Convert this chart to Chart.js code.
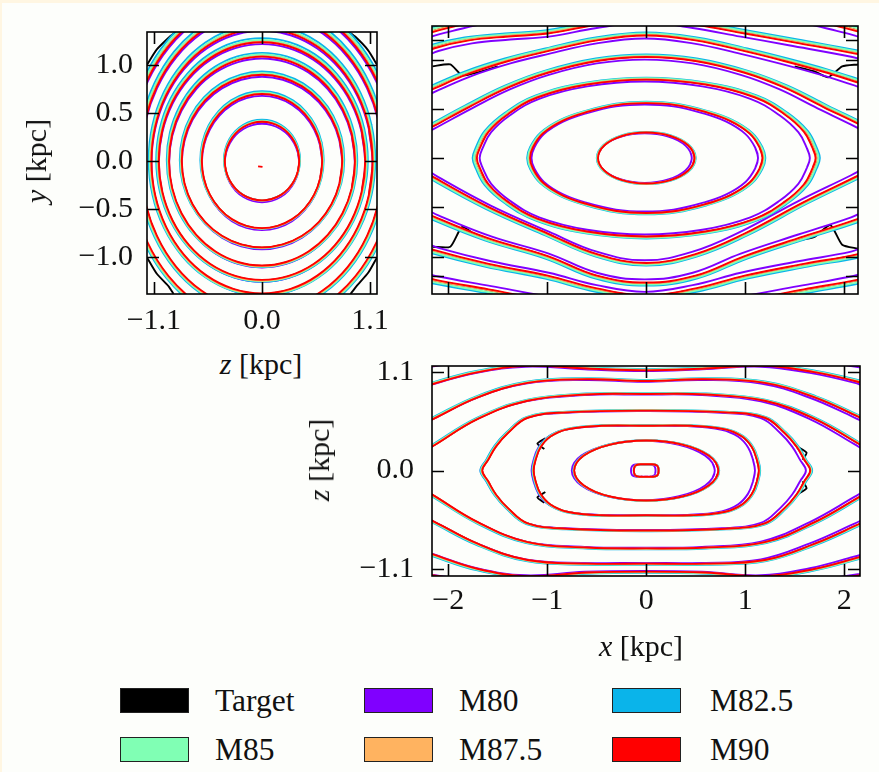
<!DOCTYPE html>
<html>
<head>
<meta charset="utf-8">
<script src="https://cdn.jsdelivr.net/npm/chart.js@4.4.1/dist/chart.umd.min.js"></script>
<style>
  body { margin: 0; background: #fdfefb; width: 879px; height: 772px; overflow: hidden; position: relative; font-family: "Liberation Serif", "DejaVu Serif", serif; color: #111; }
  .edge-top { position: absolute; left: 0; top: 0; width: 879px; height: 3px; background: #fff6e2; }
  .edge-left { position: absolute; left: 0; top: 0; width: 2px; height: 772px; background: #fff6e2; }
  canvas { position: absolute; }
  .atitle { position: absolute; font-size: 30px; white-space: nowrap; transform: translate(-50%, -50%); }
  .atitle.rot { transform: translate(-50%, -50%) rotate(-90deg); }
  .sw { position: absolute; width: 67px; height: 23px; border: 1px solid #222; }
  .lt { position: absolute; font-size: 31.5px; line-height: 30px; }
</style>
</head>
<body>
<div class="edge-top"></div>
<div class="edge-left"></div>

<canvas id="p1" width="400" height="340" style="left:0;top:0"></canvas>
<canvas id="p2" width="459" height="310" style="left:420px;top:0"></canvas>
<canvas id="p3" width="549" height="300" style="left:330px;top:330px"></canvas>

<div class="atitle rot" style="left:36px;top:161px"><i>y</i> [kpc]</div>
<div class="atitle" style="left:261px;top:364px"><i>z</i> [kpc]</div>
<div class="atitle rot" style="left:319px;top:460px"><i>z</i> [kpc]</div>
<div class="atitle" style="left:641px;top:646px"><i>x</i> [kpc]</div>

<div id="legend"></div>

<script>
// models and colours
const models = ['Target', 'M80', 'M82.5', 'M85', 'M87.5', 'M90'];
const modelColors = ['#000000', '#8000ff', '#0ab4ea', '#80ffb4', '#ffb360', '#ff0000'];

// per-model size and offset of the contours
const p1Scale = [1.0, 0.995, 1.02, 1.01, 1.0, 0.995];
const p1Shift = [[0, 0], [0, -0.02], [0, 0.012], [0, 0.005], [0, 0], [0, 0]];
const p2Scale = [1.0, 0.97, 1.02, 1.012, 1.0, 0.995];
const p2Shift = [[0, 0], [-0.015, 0], [0, 0], [0, 0], [0, 0], [0, 0]];
const p3Scale = [1.0, 0.99, 1.01, 1.005, 1.0, 0.998];
const p3Shift = [[0, 0], [-0.03, 0], [0, 0], [0, 0], [0, 0], [0, 0]];

// ticks
const p1ZTicks = [-1.1, 0, 1.1];
const p1ZTickLabels = ['\u22121.1', '0.0', '1.1'];
const p1YTicks = [-1, -0.5, 0, 0.5, 1];
const p1YTickLabels = ['\u22121.0', '\u22120.5', '0.0', '0.5', '1.0'];
const p2XTicks = [-2, -1, 0, 1, 2];
const p2YTicks = [-1.2, -1, -0.5, 0, 0.5, 1, 1.2];
const p3XTicks = [-2, -1, 0, 1, 2];
const p3XTickLabels = ['\u22122', '\u22121', '0', '1', '2'];
const p3ZTicks = [-1.1, 0, 1.1];
const p3ZTickLabels = ['\u22121.1', '0.0', '1.1'];

// panel 1 (z, y): closed contours, first quadrant from +z axis round to +y axis
const p1Closed = [
  [[0.38, 0], [0.367, 0.106], [0.329, 0.205], [0.269, 0.29], [0.19, 0.355], [0.098, 0.396], [0, 0.41]],
  [[0.615, 0], [0.594, 0.181], [0.533, 0.35], [0.435, 0.495], [0.308, 0.606], [0.159, 0.676], [0, 0.70]],
  [[0.82, 0], [0.792, 0.233], [0.71, 0.45], [0.58, 0.636], [0.41, 0.779], [0.212, 0.869], [0, 0.90]],
  [[0.95, 0], [0.918, 0.282], [0.823, 0.545], [0.672, 0.771], [0.475, 0.944], [0.246, 1.053], [0, 1.09]],
  [[1.055, 0], [1.019, 0.321], [0.914, 0.62], [0.746, 0.877], [0.528, 1.074], [0.273, 1.198], [0, 1.24]],
  [[1.13, 0], [1.092, 0.357], [0.979, 0.69], [0.799, 0.976], [0.565, 1.195], [0.293, 1.333], [0, 1.38]],
  [[1.24, 0], [1.198, 0.404], [1.074, 0.78], [0.877, 1.103], [0.62, 1.351], [0.321, 1.507], [0, 1.56]],
  [[1.35, 0], [1.304, 0.44], [1.169, 0.85], [0.954, 1.202], [0.675, 1.472], [0.35, 1.642], [0, 1.70]]
];
const p1Core = [[-0.04, -0.055], [0.005, -0.06]];
// target contours that part from the models in the corners
const p1TargetCorners = [
  [[-1.17, 1.0], [-1.07, 1.16], [-0.93, 1.3], [-0.88, 1.34]],
  [[0.88, 1.34], [0.95, 1.29], [1.08, 1.15], [1.17, 1.0]],
  [[-1.17, -1.0], [-1.07, -1.17], [-0.95, -1.3], [-0.9, -1.38]],
  [[0.9, -1.38], [0.96, -1.3], [1.08, -1.16], [1.17, -1.0]]
];

// panel 2 (x, y)
const p2Closed = [
  [[0.49, 0], [0.473, 0.067], [0.424, 0.13], [0.346, 0.184], [0.245, 0.225], [0.127, 0.251], [0, 0.26]],
  [[1.18, 0], [1.15, 0.11], [1.05, 0.25], [0.85, 0.38], [0.6, 0.47], [0.3, 0.54], [0, 0.56]],
  [[1.72, 0], [1.69, 0.1], [1.6, 0.27], [1.4, 0.45], [1.1, 0.62], [0.6, 0.75], [0, 0.80]]
];
const p2Open = [
  [[-2.3, 0.25], [-2.15, 0.33], [-1.8, 0.52], [-1.4, 0.72], [-1.0, 0.87], [-0.5, 0.99], [0, 1.03], [0.5, 0.99], [1.0, 0.87], [1.4, 0.72], [1.8, 0.52], [2.15, 0.35], [2.3, 0.27]],
  [[-2.3, 0.64], [-2.15, 0.71], [-1.8, 0.86], [-1.4, 0.99], [-1.0, 1.09], [-0.5, 1.2], [0, 1.25], [0.5, 1.2], [1.0, 1.09], [1.4, 0.99], [1.8, 0.88], [2.15, 0.77], [2.3, 0.72]],
  [[-2.3, 1.05], [-2.15, 1.12], [-1.8, 1.2], [-1.4, 1.24], [-1.0, 1.27], [-0.5, 1.36], [0, 1.42], [0.5, 1.36], [1.0, 1.27], [1.5, 1.18], [2.15, 1.06], [2.3, 1.02]],
  [[-2.3, 1.25], [-2.0, 1.33], [-1.6, 1.42], [-1.0, 1.5], [0, 1.6], [1.0, 1.5], [1.6, 1.42], [2.0, 1.33], [2.3, 1.25]],
  [[-2.3, -0.1], [-2.15, -0.2], [-1.6, -0.5], [-1.0, -0.77], [-0.5, -0.98], [0, -1.07], [0.5, -0.98], [1.0, -0.77], [1.6, -0.45], [2.15, -0.18], [2.3, -0.1]],
  [[-2.3, -0.52], [-2.15, -0.6], [-1.6, -0.82], [-1.0, -1.0], [-0.5, -1.2], [0, -1.27], [0.5, -1.2], [1.0, -1.0], [1.6, -0.8], [2.15, -0.62], [2.3, -0.55]],
  [[-2.3, -0.88], [-2.15, -0.94], [-1.6, -1.08], [-1.0, -1.2], [-0.5, -1.33], [0, -1.4], [0.5, -1.33], [1.0, -1.2], [1.6, -1.08], [2.15, -0.98], [2.3, -0.92]],
  [[-2.3, -1.2], [-2.15, -1.24], [-1.6, -1.34], [-1.0, -1.45], [0, -1.6], [1.0, -1.45], [1.6, -1.34], [2.15, -1.24], [2.3, -1.2]]
];
const p2TargetKinks = [
  [[-2.16, 0.93], [-1.98, 0.95], [-1.86, 0.84], [-1.7, 0.87], [-1.5, 0.93]],
  [[1.5, 0.93], [1.7, 0.88], [1.84, 0.82], [1.98, 0.93], [2.14, 0.95]],
  [[-2.16, -0.9], [-1.98, -0.9], [-1.86, -0.7], [-1.7, -0.8], [-1.5, -0.86]],
  [[1.5, -0.84], [1.7, -0.8], [1.86, -0.68], [1.98, -0.88], [2.14, -0.92]]
];

// panel 3 (x, z)
const p3Closed = [
  [[0.125, 0], [0.122, 0.03], [0.11, 0.055], [0.08, 0.068], [0.04, 0.07], [0, 0.07]],
  [[0.73, 0], [0.705, 0.087], [0.632, 0.168], [0.516, 0.237], [0.365, 0.29], [0.189, 0.324], [0, 0.335]],
  [[1.14, 0], [1.12, 0.12], [1.07, 0.26], [0.97, 0.38], [0.8, 0.46], [0.45, 0.5], [0, 0.5]],
  [[1.66, 0], [1.6, 0.12], [1.52, 0.27], [1.4, 0.42], [1.2, 0.59], [0.8, 0.65], [0, 0.67]]
];
const p3Open = [
  [[-2.3, 0.18], [-2.15, 0.28], [-1.7, 0.58], [-1.2, 0.78], [-0.6, 0.85], [0, 0.855], [0.6, 0.85], [1.2, 0.78], [1.7, 0.58], [2.15, 0.30], [2.3, 0.2]],
  [[-2.3, 0.5], [-2.15, 0.58], [-1.7, 0.82], [-1.2, 0.98], [-0.6, 1.02], [0, 1.0], [0.6, 1.02], [1.2, 0.98], [1.7, 0.82], [2.15, 0.6], [2.3, 0.52]],
  [[-2.3, 0.9], [-2.15, 0.97], [-1.7, 1.1], [-1.2, 1.17], [-0.6, 1.14], [0, 1.12], [0.6, 1.14], [1.2, 1.17], [1.7, 1.1], [2.15, 0.99], [2.3, 0.93]],
  [[-2.3, 1.15], [-2.0, 1.2], [-1.6, 1.3], [0, 1.35], [1.6, 1.3], [2.0, 1.2], [2.3, 1.15]],
  [[-2.3, -0.18], [-2.15, -0.28], [-1.7, -0.58], [-1.2, -0.8], [-0.6, -0.86], [0, -0.87], [0.6, -0.86], [1.2, -0.8], [1.7, -0.58], [2.15, -0.3], [2.3, -0.2]],
  [[-2.3, -0.5], [-2.15, -0.57], [-1.7, -0.82], [-1.2, -1.0], [-0.6, -1.04], [0, -1.04], [0.6, -1.04], [1.2, -1.0], [1.7, -0.82], [2.15, -0.6], [2.3, -0.52]],
  [[-2.3, -0.88], [-2.15, -0.94], [-1.7, -1.1], [-1.2, -1.18], [-0.6, -1.14], [0, -1.13], [0.6, -1.14], [1.2, -1.18], [1.7, -1.1], [2.15, -0.97], [2.3, -0.92]],
  [[-2.3, -1.15], [-2.0, -1.2], [-1.6, -1.3], [0, -1.35], [1.6, -1.3], [2.0, -1.2], [2.3, -1.15]]
];
const p3TargetKinks = [
  [[-1.02, 0.36], [-1.1, 0.3], [-1.03, 0.24]],
  [[-1.02, -0.24], [-1.1, -0.3], [-1.03, -0.36]],
  [[1.52, 0.27], [1.62, 0.2], [1.58, 0.12]],
  [[1.52, -0.27], [1.62, -0.2], [1.58, -0.12]]
];

const TICK = 12;
const tickFont = { family: 'Liberation Serif', size: 30 };

// closed loop from a quadrant (mirrored in both axes); one extra point at each end
// so the spline runs smoothly through the start point
const loop = q => {
  const pts = [
    ...q,
    ...q.slice(0, -1).reverse().map(([x, y]) => [-x, y]),
    ...q.slice(1).map(([x, y]) => [-x, -y]),
    ...q.slice(0, -1).reverse().map(([x, y]) => [x, -y])
  ];
  return [pts[pts.length - 2], ...pts, pts[1]];
};

const line = (pts, i, tension) => ({
  label: models[i],
  order: models.length - 1 - i,
  data: pts.map(([x, y]) => ({ x, y })),
  borderColor: modelColors[i],
  borderWidth: 1.9,
  showLine: true,
  pointRadius: 0,
  tension,
  fill: false
});

const buildDatasets = (curves, scales, shifts, targetExtra) => {
  const sets = [];
  models.forEach((m, i) => {
    const s = scales[i], [dx, dy] = shifts[i];
    curves.forEach(c => sets.push(line(c.map(([x, y]) => [x * s + dx, y * s + dy]), i, 0.4)));
  });
  (targetExtra || []).forEach(c => sets.push(line(c, 0, 0.2)));
  return sets;
};

const framePlugin = {
  id: 'frame',
  afterDatasetsDraw(chart, args, opts) {
    const { ctx, chartArea: a, scales } = chart;
    ctx.save();
    ctx.strokeStyle = '#000';
    ctx.lineWidth = 1.6;
    ctx.strokeRect(a.left, a.top, a.right - a.left, a.bottom - a.top);
    ctx.beginPath();
    opts.xTicks.forEach(v => {
      const px = Math.round(scales.x.getPixelForValue(v)) + 0.5;
      ctx.moveTo(px, a.top); ctx.lineTo(px, a.top + TICK);
      ctx.moveTo(px, a.bottom); ctx.lineTo(px, a.bottom - TICK);
    });
    opts.yTicks.forEach(v => {
      const py = Math.round(scales.y.getPixelForValue(v)) + 0.5;
      ctx.moveTo(a.left, py); ctx.lineTo(a.left + TICK, py);
      ctx.moveTo(a.right, py); ctx.lineTo(a.right - TICK, py);
    });
    ctx.stroke();
    ctx.restore();
  }
};

const axis = (min, max, ticks, labels, pad, fit) => ({
  type: 'linear',
  min, max,
  display: labels ? true : false,
  afterBuildTicks: ax => { ax.ticks = ticks.map(v => ({ value: v })); },
  afterFit: fit,
  grid: { display: false, drawTicks: false },
  border: { display: false },
  ticks: {
    autoSkip: false, maxRotation: 0, padding: pad, color: '#111', font: tickFont,
    callback: (v, i) => labels ? labels[i] : ''
  }
});

const makeChart = (id, datasets, scales, padding, xTicks, yTicks) => new Chart(document.getElementById(id), {
  type: 'scatter',
  data: { datasets },
  options: {
    responsive: false,
    animation: false,
    events: [],
    layout: { padding },
    elements: { line: { capBezierPoints: false } },
    plugins: { legend: { display: false }, tooltip: { enabled: false }, frame: { xTicks, yTicks } },
    scales
  },
  plugins: [framePlugin]
});

// panel 1: z horizontal, y vertical
const p1Data = buildDatasets(p1Closed.map(loop), p1Scale, p1Shift, p1TargetCorners);
p1Data.push(line(p1Core, 5, 0));
makeChart('p1', p1Data, {
  x: axis(-1.17, 1.17, p1ZTicks, p1ZTickLabels, 9, s => { s.height = 40; }),
  y: axis(-1.38, 1.34, p1YTicks, p1YTickLabels, 14, s => { s.width = 147; })
}, { left: 0, top: 26, right: 23, bottom: 6 }, p1ZTicks, p1YTicks);

// panel 2: x horizontal, y vertical
makeChart('p2', buildDatasets([...p2Closed.map(loop), ...p2Open], p2Scale, p2Shift, p2TargetKinks), {
  x: axis(-2.165, 2.14, p2XTicks, null, 0),
  y: axis(-1.38, 1.34, p2YTicks, null, 0)
}, { left: 12, top: 26, right: 21, bottom: 16 }, p2XTicks, p2YTicks);

// panel 3: x horizontal, z vertical
makeChart('p3', buildDatasets([...p3Closed.map(loop), ...p3Open], p3Scale, p3Shift, p3TargetKinks), {
  x: axis(-2.165, 2.16, p3XTicks, p3XTickLabels, 7, s => { s.height = 40; }),
  y: axis(-1.176, 1.166, p3ZTicks, p3ZTickLabels, 18, s => { s.width = 102; })
}, { left: 0, top: 15, right: 19, bottom: 14 }, p3XTicks, p3ZTicks);

// legend, 3 columns x 2 rows
const legendCols = [120, 364, 612];
const legendTextCols = [215, 459, 710];
const legendRows = [688, 737];
const legend = document.getElementById('legend');
models.forEach((m, i) => {
  const c = i % 3, r = Math.floor(i / 3);
  const sw = document.createElement('div');
  sw.className = 'sw';
  sw.style.left = legendCols[c] + 'px';
  sw.style.top = legendRows[r] + 'px';
  sw.style.background = modelColors[i];
  legend.appendChild(sw);
  const t = document.createElement('div');
  t.className = 'lt';
  t.style.left = legendTextCols[c] + 'px';
  t.style.top = (legendRows[r] - 2) + 'px';
  t.textContent = m;
  legend.appendChild(t);
});
</script>
</body>
</html>
